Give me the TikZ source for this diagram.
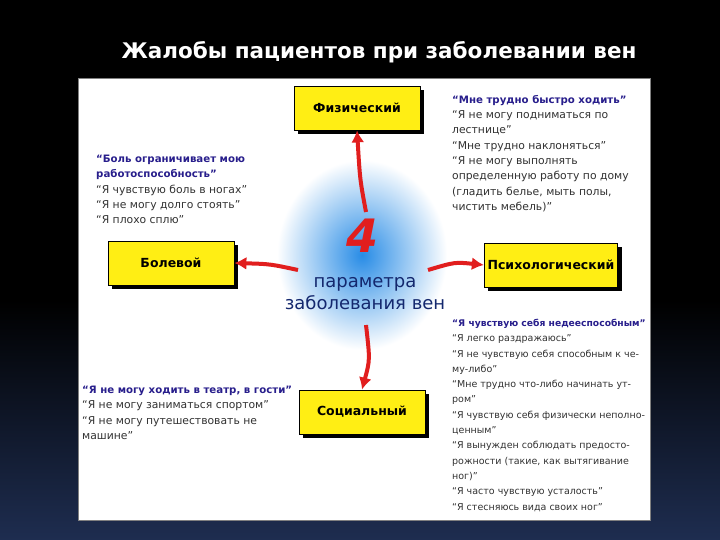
\documentclass[tikz,border=0pt]{standalone}
\usepackage{fontspec}
\setmainfont{DejaVu Sans}
\usetikzlibrary{arrows.meta,shadows}
\definecolor{ybox}{RGB}{255,238,20}
\definecolor{qblue}{RGB}{40,30,140}
\definecolor{qgray}{RGB}{50,50,50}
\definecolor{arr}{RGB}{225,30,30}
\definecolor{glow}{RGB}{40,140,230}
\tikzset{
 ybx/.style={draw=black,line width=0.8pt,fill=ybox,minimum width=126pt,minimum height=44pt,font=\bfseries\fontsize{12.5}{14}\selectfont,
   drop shadow={shadow xshift=4pt,shadow yshift=-4pt,fill=black,opacity=1}},
 quote/.style={align=left,anchor=north west,inner sep=0pt,font=\fontsize{10.8}{15.3}\selectfont,text=qgray},
 rarr/.style={draw=arr,line width=4pt,-{Latex[length=12pt,width=13pt]}},
}
\newcommand{\hq}[1]{{\color{qblue}\bfseries\fontsize{10.2}{15.3}\selectfont #1}}
\newcommand{\hqs}[1]{{\color{qblue}\bfseries\fontsize{9.2}{15.3}\selectfont #1}}
\begin{document}
\begin{tikzpicture}[x=1pt,y=-1pt]
\shade[top color=black,bottom color=black,middle color=black] (0,0) rectangle (720,300);
\shade[top color=black,bottom color={rgb,255:red,30;green,45;blue,80}] (0,300) rectangle (720,540);
\useasboundingbox (0,0) rectangle (720,540);
\node[text=white,font=\bfseries\fontsize{21.5}{24}\selectfont,anchor=west] (title) at (118,52) {Жалобы пациентов при заболевании вен};
\draw[fill=white,draw=gray] (78,78) rectangle (650,520);
\shade[inner color=glow,outer color=white] (362,255) ellipse (85 and 95);
\node[ybx] (f) at (357,108) {Физический};
\node[ybx] (b) at (171,263) {Болевой};
\node[ybx] (p) at (551,265) {Психологический};
\node[ybx] (s) at (362,412) {Социальный};
\node[font=\bfseries\itshape\fontsize{46}{46}\selectfont,text=arr] (n4) at (362,236) {4};
\node[font=\fontsize{18}{22}\selectfont,text={rgb,255:red,20;green,40;blue,110},align=center] (c) at (365,294) {параметра\\заболевания вен};
\coordinate (cu) at (366,212);
\coordinate (cl) at (298,270);
\coordinate (cr) at (428,270);
\coordinate (cd) at (366,325);
\draw[rarr] (cu) .. controls (360,180) .. (f.south);
\draw[rarr] (cl) .. controls (270,264) .. (b.east);
\draw[rarr] (cr) .. controls (455,262) .. (p.west);
\draw[rarr] (cd) .. controls (370,360) .. (s.north);
\node[quote] (qf) at (452,95) {\hq{“Мне трудно быстро ходить”}\\“Я не могу подниматься по\\лестнице”\\“Мне трудно наклоняться”\\“Я не могу выполнять\\определенную работу по дому\\(гладить белье, мыть полы,\\чистить мебель)”};
\node[quote] (qb) at (96,155) {\hq{“Боль ограничивает мою}\\\hq{работоспособность”}\\“Я чувствую боль в ногах”\\“Я не могу долго стоять”\\“Я плохо сплю”};
\node[quote] (qs) at (82,386) {\hq{“Я не могу ходить в театр, в гости”}\\“Я не могу заниматься спортом”\\“Я не могу путешествовать не\\машине”};
\node[quote,font=\fontsize{9.5}{15.3}\selectfont] (qp) at (452,319) {\hqs{“Я чувствую себя недееспособным”}\\“Я легко раздражаюсь”\\“Я не чувствую себя способным к че-\\му-либо”\\“Мне трудно что-либо начинать ут-\\ром”\\“Я чувствую себя физически неполно-\\ценным”\\“Я вынужден соблюдать предосто-\\рожности (такие, как вытягивание\\ног)”\\“Я часто чувствую усталость”\\“Я стесняюсь вида своих ног”};
\end{tikzpicture}
\end{document}
